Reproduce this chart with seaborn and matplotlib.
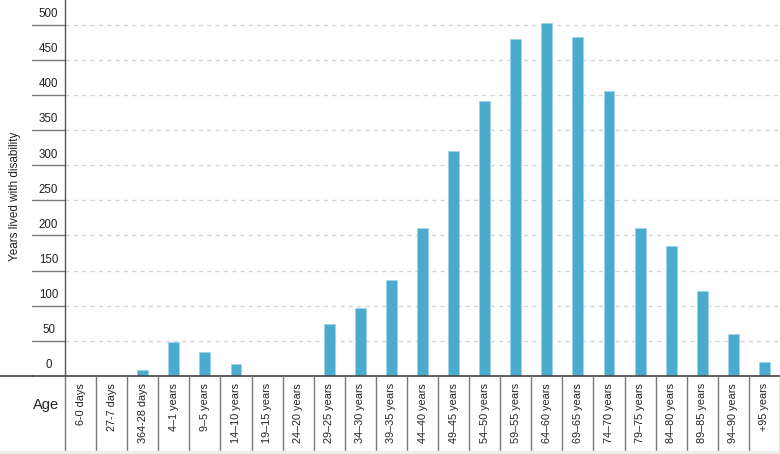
import matplotlib
matplotlib.use("Agg")
import matplotlib.pyplot as plt
import seaborn as sns
import pandas as pd

ages = ["6-0 days", "27-7 days", "364-28 days", "4–1 years", "9–5 years", "14–10 years",
        "19–15 years", "24–20 years", "29–25 years", "34–30 years", "39–35 years",
        "44–40 years", "49–45 years", "54–50 years", "59–55 years", "64–60 years",
        "69–65 years", "74–70 years", "79–75 years", "84–80 years", "89–85 years",
        "94–90 years", "+95 years"]
yld = [0, 0, 8.5, 48, 34.6, 17, 0, 0, 74, 96.4, 136.6, 211, 320, 392, 479, 502,
       482, 406, 211, 185.5, 121, 60, 19.5]
y_ticks = [0, 50, 100, 150, 200, 250, 300, 350, 400, 450, 500]

df = pd.DataFrame({"age": ages, "yld": yld})

sns.set_style("white")
plt.rcParams["font.family"] = ["Liberation Sans", "DejaVu Sans"]

W, H = 780, 454
fig = plt.figure(figsize=(7.8, 4.54), dpi=100)
left, bottom, top = 65, 376, 0
ax = fig.add_axes([left / W, (H - bottom) / H, (W - left) / W, (bottom - top) / H])

sns.barplot(data=df, x="age", y="yld", color="#4aabcf", saturation=1, width=0.35,
            edgecolor="#9fd3e6", linewidth=0.6, ax=ax)
ax.set_xlim(-0.5, len(ages) - 0.5)
ax.set_ylim(0, 535)
ax.set_xlabel("")
ax.set_ylabel("")
ax.set_yticks([])
ax.set_xticks(range(len(ages)))
ax.set_xticklabels(ages, rotation=90, fontsize=7.8, color="#222222")
ax.tick_params(axis="x", length=0, pad=5)
for s in ["top", "right", "bottom"]:
    ax.spines[s].set_visible(False)
ax.spines["left"].set_color("#555555")
ax.spines["left"].set_linewidth(1)

# dashed grid
ax.hlines(y_ticks[1:], -0.5, len(ages) - 0.5, colors="#d4d4d4", linewidth=1,
          linestyles=(0, (3, 3)), zorder=0)

# y label column
ytr = ax.get_yaxis_transform()
col_x = (32 - left) / (W - left)
ax.plot([col_x, col_x], [0, 1], transform=ytr, color="#555555", lw=1, clip_on=False)
for v in y_ticks[1:]:
    ax.plot([col_x, 0], [v, v], transform=ytr, color="#777777", lw=1, clip_on=False)
for v in y_ticks:
    ax.text((48.5 - left) / (W - left), v + 15, str(v), transform=ytr, ha="center",
            va="center", fontsize=8.3, color="#222222", clip_on=False)

# baseline across the whole width
ax.plot([-left / (W - left), 1], [0, 0], transform=ax.transAxes, color="#444444",
        lw=1.2, clip_on=False)

# category separators below axis
xtr = ax.get_xaxis_transform()
depth = -(451 - bottom) / (bottom - top)
ax.vlines([i - 0.5 for i in range(len(ages) + 1)], depth, 0, transform=xtr,
          colors="#7a7a7a", lw=1, clip_on=False)

fig.text(15 / W, 1 - 196 / H, "Years lived with disability", rotation=90,
         ha="center", va="center", fontsize=8.5, color="#222222")
fig.text(46 / W, 1 - 405 / H, "Age", ha="center", va="center", fontsize=10.5,
         color="#222222")
fig.patches.append(plt.Rectangle((0, 0), 1, 3 / H, transform=fig.transFigure,
                                 color="#eeeeee", zorder=0))

fig.savefig("out.png", dpi=100)
plt.close(fig)
